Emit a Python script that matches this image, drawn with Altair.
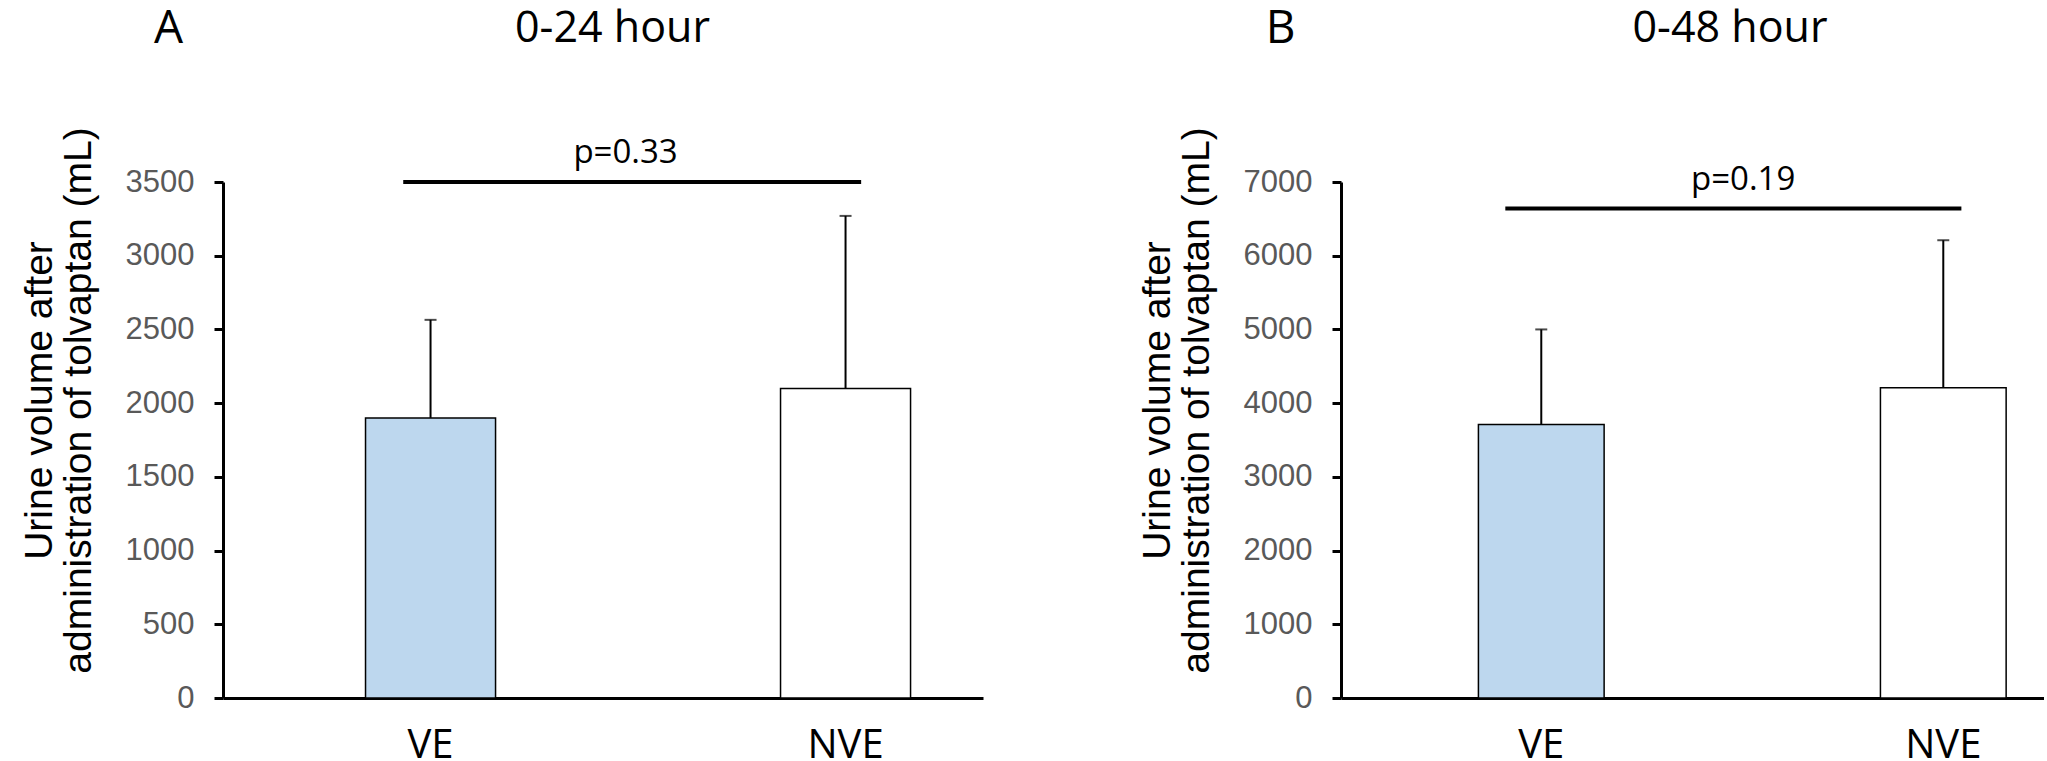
import altair as alt
import pandas as pd

# ---------------- data ----------------
groups = ["VE", "NVE"]
bar_fill = ["#BDD7EE", "#FFFFFF"]

mean_24h = [1900, 2100]
upper_24h = [2565, 3270]
mean_48h = [3710, 4210]
upper_48h = [5000, 6210]

ticks_24h = [0, 500, 1000, 1500, 2000, 2500, 3000, 3500]
ticks_48h = [0, 1000, 2000, 3000, 4000, 5000, 6000, 7000]

sig_24h = 3500
sig_48h = 6640
p_24h = "p=0.33"
p_48h = "p=0.19"

panel_letters = ["A", "B"]
panel_titles = ["0-24 hour", "0-48 hour"]
y_title = ["Urine volume after", "administration of tolvaptan (mL)"]

PLOT_H = 516


def panel(letter, title, means, uppers, ticks, sig, ptext, width,
          pad_inner, pad_outer, align, sig_b1, sig_b2, p_dx, title_x, letter_x):
    df = pd.DataFrame({"group": groups, "mean": means, "upper": uppers, "fill": bar_fill})
    xscale = alt.Scale(domain=groups, paddingInner=pad_inner, paddingOuter=pad_outer, align=align)
    yscale = alt.Scale(domain=[0, ticks[-1]], nice=False, zero=True)

    x_axis = alt.Axis(
        labelFont="Open Sans", labelFontSize=40, labelColor="black", labelAngle=0,
        labelPadding=27, labelBaseline="top", ticks=False, tickSize=0,
        domainColor="black", domainWidth=3, grid=False,
    )
    y_axis = alt.Axis(
        values=ticks, format="d", labelFont="Liberation Sans", labelFontSize=31,
        labelColor="#595959", labelPadding=20, tickSize=9, tickWidth=3, tickColor="black",
        domainColor="black", domainWidth=3, grid=False,
        titleFont="Liberation Sans", titleFontSize=39, titleFontWeight="normal",
        titleColor="black", titleLineHeight=39, titleAngle=270,
        titleX=-203, titleY=218, titleBaseline="top", titleAlign="center",
    )

    def X(field, **kw):
        return alt.X(field, scale=xscale, axis=x_axis, title=None, **kw)

    def Y(field):
        return alt.Y(field, scale=yscale, axis=y_axis, title=y_title)

    bars = alt.Chart(df).mark_bar(stroke="black", strokeWidth=1.5).encode(
        x=X("group:N"),
        y=Y("mean:Q"),
        fill=alt.Fill("fill:N", scale=None),
    )
    whisk = alt.Chart(df).mark_rule(color="black", strokeWidth=2).encode(
        x=X("group:N"),
        y=Y("mean:Q"),
        y2="upper:Q",
    )
    caps = alt.Chart(df).mark_tick(color="black", size=12, thickness=2).encode(
        x=X("group:N"),
        y=Y("upper:Q"),
    )

    sig_df = pd.DataFrame({"g1": [groups[0]], "g2": [groups[1]], "y": [sig], "t": [ptext]})
    sig_line = alt.Chart(sig_df).mark_rule(color="black", strokeWidth=4).encode(
        x=X("g1:N", bandPosition=sig_b1),
        x2=alt.X2("g2", bandPosition=sig_b2),
        y=Y("y:Q"),
    )
    sig_text = alt.Chart(sig_df).mark_text(
        font="Open Sans", fontSize=33, color="black", baseline="alphabetic", align="center",
        dy=-19, dx=p_dx,
    ).encode(
        x=X("g1:N", bandPosition=1),
        y=Y("y:Q"),
        text="t:N",
    )
    head_df = pd.DataFrame({"t": [letter], "h": [title]})
    letter_mark = alt.Chart(head_df).mark_text(
        font="Open Sans", fontSize=46, color="black", baseline="alphabetic", align="center"
    ).encode(text="t:N", x=alt.value(letter_x), y=alt.value(-139))
    title_mark = alt.Chart(head_df).mark_text(
        font="Open Sans", fontSize=43, color="black", baseline="alphabetic", align="center"
    ).encode(text="h:N", x=alt.value(title_x), y=alt.value(-140.5))

    return alt.layer(bars, whisk, caps, sig_line, sig_text, letter_mark, title_mark).properties(
        width=width, height=PLOT_H,
    )


pA = panel(panel_letters[0], panel_titles[0], mean_24h, upper_24h, ticks_24h, sig_24h, p_24h,
           760, 0.6867, 0.259, 0.663, 0.29, 0.62, 130, 389.5, -54.5)
pB = panel(panel_letters[1], panel_titles[1], mean_48h, upper_48h, ticks_48h, sig_48h, p_48h,
           703, 0.6873, 0.218, 0.784, 0.214, 0.644, 139, 389, -60.5)

chart = alt.hconcat(pA, pB, spacing=155).properties(
    padding={"left": 20, "top": 6, "right": 0, "bottom": 0},
    background="white",
).configure_view(stroke=None)

chart.save("out.html", embed_options={"renderer": "svg", "actions": False})
